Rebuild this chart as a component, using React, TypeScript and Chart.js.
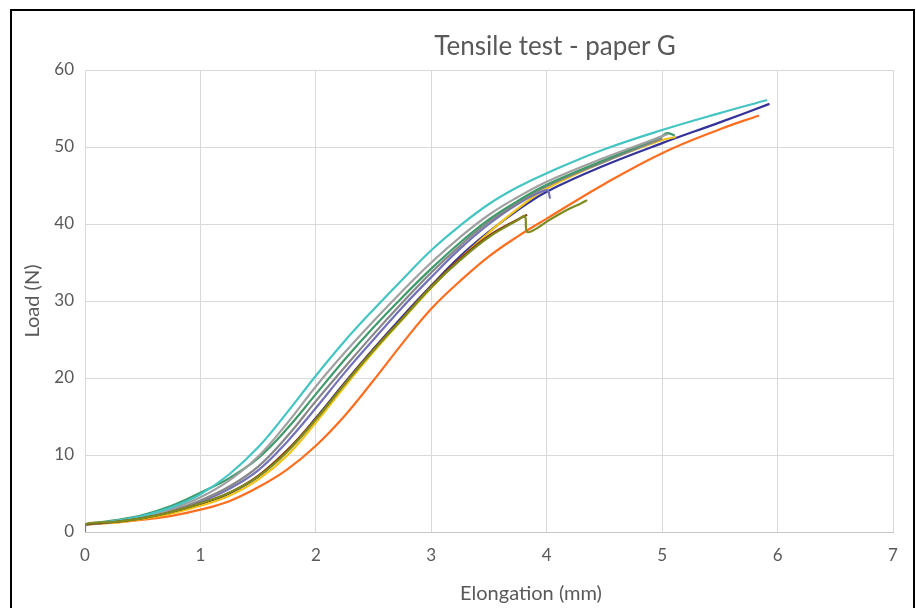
import React, { useEffect, useRef } from "react";
import { Chart, registerables } from "chart.js";

Chart.register(...registerables);

// Axis tick values
const X_TICKS = [0, 1, 2, 3, 4, 5, 6, 7];
const Y_TICKS = [0, 10, 20, 30, 40, 50, 60];

// Specimen curves: elongation (mm) and load (N)
const oliveElong = [0, 0, 0.25, 0.5, 0.75, 1, 1.25, 1.5, 1.75, 2, 2.25, 2.5, 2.75, 3, 3.25, 3.5, 3.75, 3.81, 3.83, 3.9, 4.0, 4.1, 4.2, 4.3, 4.35];
const oliveLoad = [0, 1.0, 1.3, 1.8, 2.6, 3.7, 5.1, 7.2, 10.4, 14.6, 19.2, 23.6, 27.7, 31.8, 35.3, 38.3, 40.5, 41.0, 39.0, 39.3, 40.3, 41.2, 42.0, 42.7, 43.1];

const cyanElong = [0, 0.25, 0.5, 0.75, 1, 1.25, 1.5, 1.75, 2, 2.25, 2.5, 2.75, 3, 3.25, 3.5, 3.75, 4, 4.5, 5, 5.5, 5.91];
const cyanLoad = [1.0, 1.4, 2.1, 3.2, 4.9, 7.5, 11.0, 15.5, 20.3, 24.8, 28.9, 32.8, 36.6, 39.8, 42.6, 44.8, 46.6, 49.7, 52.2, 54.4, 56.1];

const grayElong = [0, 0.25, 0.5, 0.75, 1, 1.25, 1.5, 1.75, 2, 2.25, 2.5, 2.75, 3, 3.25, 3.5, 3.75, 4, 4.5, 5, 5.05];
const grayLoad = [1.0, 1.4, 2.0, 3.0, 4.5, 6.7, 9.8, 14.1, 18.9, 23.3, 27.4, 31.3, 35.0, 38.3, 41.2, 43.5, 45.5, 48.6, 51.4, 51.7];

const greenElong = [0, 0.25, 0.5, 0.75, 1, 1.25, 1.5, 1.75, 2, 2.25, 2.5, 2.75, 3, 3.25, 3.5, 3.75, 4, 4.5, 5, 5.04, 5.11];
const greenLoad = [1.0, 1.5, 2.2, 3.4, 5.1, 7.0, 9.6, 13.4, 17.9, 22.4, 26.6, 30.5, 34.2, 37.6, 40.6, 43.0, 45.1, 48.3, 51.4, 51.8, 51.5];

const darkGrayElong = [0, 0.25, 0.5, 0.75, 1, 1.25, 1.5, 1.75, 2, 2.25, 2.5, 2.75, 3, 3.25, 3.5, 3.75, 4, 4.5, 5];
const darkGrayLoad = [1.0, 1.3, 1.9, 2.8, 4.1, 5.9, 8.5, 12.4, 17.0, 21.4, 25.7, 29.8, 33.7, 37.2, 40.3, 42.8, 44.9, 48.1, 51.1];

const slateElong = [0, 0.25, 0.5, 0.75, 1, 1.25, 1.5, 1.75, 2, 2.25, 2.5, 2.75, 3, 3.25, 3.5, 3.75, 4, 4.03];
const slateLoad = [1.0, 1.3, 1.9, 2.7, 3.9, 5.6, 8.0, 11.7, 16.1, 20.7, 25.0, 29.2, 33.1, 36.8, 40.0, 42.6, 44.4, 43.3];

const navyElong = [0, 0.25, 0.5, 0.75, 1, 1.25, 1.5, 1.75, 2, 2.25, 2.5, 2.75, 3, 3.25, 3.5, 3.75, 4, 4.5, 5, 5.5, 5.93];
const navyLoad = [1.0, 1.3, 1.8, 2.5, 3.6, 5.0, 7.2, 10.5, 14.8, 19.4, 23.8, 28.0, 32.0, 35.8, 39.0, 41.8, 44.2, 47.6, 50.5, 53.2, 55.6];

const yellowElong = [0, 0.25, 0.5, 0.75, 1, 1.25, 1.5, 1.75, 2, 2.25, 2.5, 2.75, 3, 3.25, 3.5, 3.75, 4, 4.5, 5, 5.12];
const yellowLoad = [1.0, 1.2, 1.7, 2.4, 3.4, 4.7, 6.8, 9.9, 14.2, 18.9, 23.4, 27.6, 31.7, 35.5, 38.9, 42.0, 44.6, 48.1, 50.9, 51.3];

const brownElong = [0, 0.25, 0.5, 0.75, 1, 1.25, 1.5, 1.75, 2, 2.25, 2.5, 2.75, 3, 3.25, 3.5, 3.75, 3.83];
const brownLoad = [1.0, 1.3, 1.8, 2.6, 3.7, 5.1, 7.3, 10.6, 14.7, 19.3, 23.7, 27.8, 31.9, 35.5, 38.5, 40.6, 41.2];

const orangeElong = [0, 0.25, 0.5, 0.75, 1, 1.25, 1.5, 1.75, 2, 2.25, 2.5, 2.75, 3, 3.25, 3.5, 3.75, 4, 4.5, 5, 5.5, 5.84];
const orangeLoad = [1.0, 1.2, 1.6, 2.1, 2.9, 4.0, 5.8, 8.1, 11.2, 15.1, 19.7, 24.5, 29.0, 32.6, 35.8, 38.4, 40.7, 45.2, 49.2, 52.3, 54.1];

const SERIES = [
  { elong: oliveElong, load: oliveLoad, color: "#7d8c1e" },
  { elong: brownElong, load: brownLoad, color: "#8c3a12" },
  { elong: cyanElong, load: cyanLoad, color: "#45c4c4" },
  { elong: grayElong, load: grayLoad, color: "#a0a0a0" },
  { elong: greenElong, load: greenLoad, color: "#3f9a6a" },
  { elong: darkGrayElong, load: darkGrayLoad, color: "#878787" },
  { elong: slateElong, load: slateLoad, color: "#7272b8" },
  { elong: yellowElong, load: yellowLoad, color: "#f2c214" },
  { elong: navyElong, load: navyLoad, color: "#333399" },
  { elong: orangeElong, load: orangeLoad, color: "#ff6d1f" },
];

const TEXT = "#595959";
const FONT = "Lato, 'Open Sans', sans-serif";

export default function App() {
  const canvasRef = useRef<HTMLCanvasElement>(null);

  useEffect(() => {
    let chart: Chart | null = null;
    let cancelled = false;

    const build = () => {
      if (cancelled || !canvasRef.current) return;
      chart = new Chart(canvasRef.current, {
        type: "line",
        data: {
          datasets: SERIES.map((s) => ({
            data: s.elong.map((x, i) => ({ x, y: s.load[i] })),
            borderColor: s.color,
            backgroundColor: s.color,
            borderWidth: 2.2,
            pointRadius: 0,
            fill: false,
            tension: 0.4,
          })),
        },
        options: {
          animation: false,
          responsive: false,
          devicePixelRatio: 1,
          parsing: false,
          layout: { padding: { left: 11, right: 23, top: 70, bottom: 0 } },
          plugins: {
            legend: { display: false },
            tooltip: { enabled: false },
          },
          scales: {
            x: {
              type: "linear",
              min: 0,
              max: 7,
              afterBuildTicks: (s: any) => {
                s.ticks = X_TICKS.map((v) => ({ value: v }));
              },
              afterFit: (s: any) => {
                s.height = 76;
              },
              ticks: {
                padding: 13,
                color: TEXT,
                font: { family: FONT, size: 17 },
              },
              grid: { color: "#d9d9d9", lineWidth: 1, drawTicks: false },
              border: { color: "#c6c6c6", width: 1 },
            },
            y: {
              type: "linear",
              min: 0,
              max: 60,
              afterBuildTicks: (s: any) => {
                s.ticks = Y_TICKS.map((v) => ({ value: v }));
              },
              afterFit: (s: any) => {
                s.width = 74;
              },
              ticks: {
                padding: 11,
                color: TEXT,
                font: { family: FONT, size: 17 },
              },
              grid: { color: "#d9d9d9", lineWidth: 1, drawTicks: false },
              border: { display: false },
              title: {
                display: true,
                text: "Load (N)",
                color: TEXT,
                font: { family: FONT, size: 20 },
                padding: { top: 10, bottom: 0 },
              },
            },
          },
        },
      });
    };

    const fonts = (document as any).fonts;
    if (fonts && fonts.load) {
      Promise.all([fonts.load(`17px Lato`), fonts.load(`20px Lato`)])
        .catch(() => null)
        .then(build);
    } else {
      build();
    }

    return () => {
      cancelled = true;
      if (chart) chart.destroy();
    };
  }, []);

  return (
    <div
      style={{
        position: "fixed",
        left: 0,
        top: 0,
        width: 916,
        height: 608,
        background: "#fff",
        overflow: "hidden",
        fontFamily: FONT,
      }}
    >
      <canvas
        ref={canvasRef}
        width={916}
        height={608}
        style={{ position: "absolute", left: 0, top: 0, width: 916, height: 608 }}
      />
      <div
        style={{
          position: "absolute",
          left: 355,
          top: 29,
          width: 400,
          lineHeight: "32px",
          textAlign: "center",
          fontSize: 26,
          fontWeight: 400,
          color: TEXT,
          whiteSpace: "nowrap",
        }}
      >
        Tensile test - paper G
      </div>
      <div
        style={{
          position: "absolute",
          left: 431,
          top: 580,
          width: 200,
          lineHeight: "24px",
          textAlign: "center",
          fontSize: 20,
          color: TEXT,
          whiteSpace: "nowrap",
        }}
      >
        Elongation (mm)
      </div>
      <div
        style={{
          position: "absolute",
          left: 10,
          top: 9,
          width: 905,
          height: 640,
          border: "2px solid #000",
          boxSizing: "border-box",
          pointerEvents: "none",
        }}
      />
    </div>
  );
}
